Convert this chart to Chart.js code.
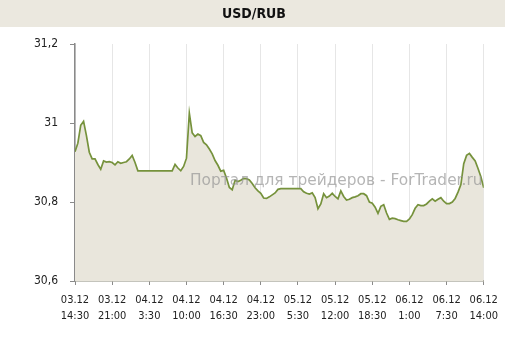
<!DOCTYPE html>
<html>
<head>
<meta charset="utf-8">
<script src="https://cdn.jsdelivr.net/npm/chart.js@4.4.1/dist/chart.umd.min.js"></script>
<style>
    html, body { margin: 0; padding: 0; background: #ffffff; }
    #wrap { width: 505px; height: 338px; position: relative; }
</style>
</head>
<body>
<div id="wrap"><canvas id="rateChart"></canvas></div>
<script>
// USD/RUB, 30-minute steps from 03.12 14:30 to 06.12 14:00
const rates = [
    30.927, 30.949, 30.994, 31.004, 30.968, 30.926, 30.909, 30.909, 30.895, 30.883,
    30.904, 30.901, 30.902, 30.900, 30.894, 30.902, 30.898, 30.900, 30.902, 30.909,
    30.918, 30.900, 30.879, 30.879, 30.879, 30.879, 30.879, 30.879, 30.879, 30.879,
    30.879, 30.879, 30.879, 30.879, 30.879, 30.895, 30.886, 30.879, 30.890, 30.911,
    31.025, 30.975, 30.966, 30.972, 30.968, 30.951, 30.945, 30.934, 30.922, 30.905,
    30.893, 30.878, 30.880, 30.861, 30.837, 30.831, 30.855, 30.852, 30.855, 30.860,
    30.859, 30.856, 30.847, 30.836, 30.828, 30.822, 30.810, 30.809, 30.813, 30.818,
    30.823, 30.832, 30.834, 30.834, 30.834, 30.834, 30.834, 30.834, 30.834, 30.834,
    30.826, 30.822, 30.820, 30.823, 30.811, 30.783, 30.795, 30.821, 30.811, 30.815,
    30.822, 30.814, 30.808, 30.828, 30.814, 30.805, 30.807, 30.811, 30.813, 30.816,
    30.821, 30.821, 30.816, 30.800, 30.797, 30.787, 30.771, 30.789, 30.793, 30.772,
    30.756, 30.759, 30.758, 30.755, 30.753, 30.751, 30.751, 30.757, 30.768, 30.784,
    30.793, 30.791, 30.791, 30.795, 30.802, 30.808, 30.802, 30.807, 30.811, 30.802,
    30.796, 30.796, 30.800, 30.809, 30.825, 30.844, 30.897, 30.918, 30.923, 30.913,
    30.904, 30.885, 30.864, 30.836
];

// one x label every 13 half-hours (6.5 h)
const xTickDates = ['03.12', '03.12', '04.12', '04.12', '04.12', '04.12', '05.12', '05.12', '05.12', '06.12', '06.12', '06.12'];
const xTickTimes = ['14:30', '21:00', '3:30', '10:00', '16:30', '23:00', '5:30', '12:00', '18:30', '1:00', '7:30', '14:00'];
const yTicks = [30.6, 30.8, 31, 31.2];

const chartTitle = 'USD/RUB';
const watermark = 'Портал для трейдеров - ForTrader.ru';

const points = rates.map((v, i) => ({ x: i, y: v }));

const labelFont = '"DejaVu Sans Condensed", "DejaVu Sans", sans-serif';

// Title band + watermark
const decorPlugin = {
    id: 'decor',
    beforeDraw(chart) {
        const ctx = chart.ctx;
        ctx.save();
        ctx.fillStyle = '#ebe8df';
        ctx.fillRect(0, 0, chart.width, 27);
        ctx.fillStyle = '#111111';
        ctx.font = 'bold 14px ' + labelFont;
        ctx.textAlign = 'center';
        ctx.textBaseline = 'middle';
        ctx.fillText(chartTitle, 254, 14);
        ctx.restore();
    },
    afterDatasetsDraw(chart) {
        const ctx = chart.ctx;
        ctx.save();
        let size = 17;
        ctx.font = size + 'px "DejaVu Sans", sans-serif';
        const w = ctx.measureText(watermark).width;
        size = size * 292 / w;
        ctx.font = size.toFixed(1) + 'px "DejaVu Sans", sans-serif';
        ctx.fillStyle = 'rgba(150, 150, 150, 0.7)';
        ctx.textAlign = 'left';
        ctx.textBaseline = 'middle';
        ctx.fillText(watermark, 190, 181);
        ctx.restore();
    }
};

new Chart(document.getElementById('rateChart'), {
    type: 'line',
    data: {
        datasets: [{
            data: points,
            borderColor: '#76923c',
            backgroundColor: '#e9e6dc',
            borderWidth: 1.7,
            pointRadius: 0,
            tension: 0,
            fill: 'start'
        }]
    },
    options: {
        responsive: true,
        maintainAspectRatio: false,
        animation: false,
        layout: { padding: { left: 0, right: 20, top: 44, bottom: 0 } },
        plugins: {
            legend: { display: false },
            tooltip: { enabled: false }
        },
        scales: {
            x: {
                type: 'linear',
                min: 0,
                max: rates.length - 1,
                afterFit: (scale) => { scale.height = 57; },
                grid: {
                    color: '#e6e6e6',
                    tickColor: '#8a8a8a',
                    tickLength: 4,
                    drawOnChartArea: true
                },
                border: { color: '#8a8a7a', width: 1.5 },
                ticks: {
                    stepSize: 13,
                    autoSkip: false,
                    maxRotation: 0,
                    padding: 7,
                    color: '#222222',
                    font: { family: labelFont, size: 11, lineHeight: 1.45 },
                    callback: (v) => {
                        const k = Math.round(v / 13);
                        return [xTickDates[k], xTickTimes[k]];
                    }
                }
            },
            y: {
                min: yTicks[0],
                max: yTicks[yTicks.length - 1],
                afterFit: (scale) => { scale.width = 75; },
                afterBuildTicks: (scale) => {
                    scale.ticks = yTicks.map(v => ({ value: v }));
                },
                grid: {
                    drawOnChartArea: false,
                    tickColor: '#8a8a8a',
                    tickLength: 5
                },
                border: { color: '#8a8a8a', width: 1.5 },
                ticks: {
                    padding: 12,
                    color: '#222222',
                    font: { family: labelFont, size: 12 },
                    callback: (v) => String(Math.round(v * 10) / 10).replace('.', ',')
                }
            }
        }
    },
    plugins: [decorPlugin]
});
</script>
</body>
</html>
